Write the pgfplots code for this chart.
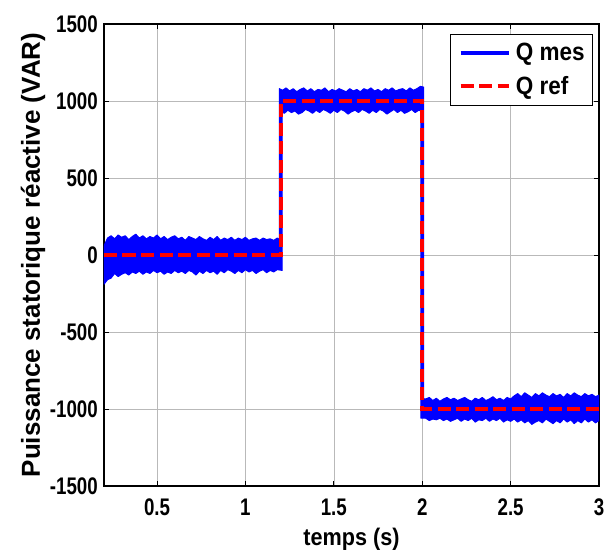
\documentclass[border=0pt]{standalone}
\usepackage{pgfplots}
\pgfplotsset{compat=1.18}
\usepackage{fontspec}
\setmainfont{Liberation Sans}
\newfontfamily\narrowfont{Liberation Sans}[FakeStretch=0.78]
\newfontfamily\midfont{Liberation Sans}[FakeStretch=0.9]
\begin{document}
\begin{tikzpicture}
\begin{axis}[
  name=ax,
  scale only axis,
  width=495pt, height=462pt,
  xmin=0.2, xmax=3, ymin=-1500, ymax=1500,
  xtick={0.5,1,1.5,2,2.5,3},
  xticklabels={0.5,1,1.5,2,2.5,3},
  ytick={-1500,-1000,-500,0,500,1000,1500},
  yticklabels={-1500,-1000,-500,0,500,1000,1500},
  grid=major,
  major grid style={gray!55, line width=0.6pt},
  axis line style={black, line width=1.1pt},
  tick style={black, line width=0.8pt},
  tick align=inside,
  major tick length=5pt,
  ticklabel style={font=\narrowfont\bfseries\fontsize{24}{26}\selectfont},
  xticklabel style={inner sep=0pt, yshift=-13pt},
  yticklabel style={inner sep=0pt, xshift=-6pt},
  every axis y label/.style={at={(axis description cs:-0.1293,0.5)}, rotate=90, anchor=base},
  every axis x label/.style={at={(axis description cs:0.5,-0.1277)}, anchor=base},
  ylabel={\bfseries\fontsize{26}{28}\selectfont Puissance statorique réactive (VAR)},
  xlabel={\midfont\bfseries\fontsize{24}{26}\selectfont temps (s)},
  legend cell align=left,
  legend style={at={(axis description cs:0.9879,0.9784)}, anchor=north east,
    draw=black, line width=0.8pt, fill=white,
    font=\midfont\bfseries\fontsize{25}{27}\selectfont,
    inner xsep=8pt, inner ysep=9pt, row sep=14pt,
    nodes={inner sep=0pt},
    /tikz/every odd column/.append style={column sep=5pt}},
  legend image code/.code={\draw[#1] (0pt,0pt) -- (48pt,0pt);},
]
\addplot[draw=blue, fill=blue, line width=1pt, line join=round, forget plot] coordinates {
(0.20,60) (0.22,110) (0.24,125) (0.26,105) (0.28,130) (0.30,115) (0.32,125) (0.34,100) (0.36,120) (0.38,135)
(0.40,110) (0.42,125) (0.44,105) (0.46,120) (0.48,110) (0.50,130) (0.52,105) (0.54,120) (0.56,100) (0.58,115)
(0.60,125) (0.62,105) (0.64,115) (0.66,95) (0.68,120) (0.70,110) (0.72,100) (0.74,120) (0.76,105) (0.78,95)
(0.80,115) (0.82,100) (0.84,120) (0.86,95) (0.88,110) (0.90,100) (0.92,115) (0.94,95) (0.96,110) (0.98,100)
(1.00,115) (1.02,95) (1.04,105) (1.06,110) (1.08,95) (1.10,110) (1.12,100) (1.14,105) (1.16,95) (1.18,110)
(1.192,100) (1.192,1080)
(1.21,1070) (1.23,1085) (1.25,1065) (1.27,1080) (1.29,1060) (1.31,1075) (1.33,1085) (1.35,1065) (1.37,1080) (1.39,1060)
(1.41,1075) (1.43,1070) (1.45,1085) (1.47,1060) (1.49,1075) (1.51,1065) (1.53,1080) (1.55,1070) (1.57,1060) (1.59,1080)
(1.61,1065) (1.63,1075) (1.65,1060) (1.67,1080) (1.69,1070) (1.71,1085) (1.73,1065) (1.75,1075) (1.77,1060) (1.79,1080)
(1.81,1070) (1.83,1085) (1.85,1065) (1.87,1075) (1.89,1080) (1.91,1065) (1.93,1085) (1.95,1070) (1.97,1080) (1.99,1095)
(2.008,1090) (2.008,-935)
(2.02,-935) (2.04,-925) (2.06,-945) (2.08,-930) (2.10,-950) (2.12,-935) (2.14,-925) (2.16,-940) (2.18,-930) (2.20,-945)
(2.22,-935) (2.24,-925) (2.26,-940) (2.28,-950) (2.30,-930) (2.32,-940) (2.34,-925) (2.36,-945) (2.38,-935) (2.40,-920)
(2.42,-940) (2.44,-930) (2.46,-945) (2.48,-925) (2.50,-935) (2.52,-915) (2.54,-900) (2.56,-920) (2.58,-895) (2.60,-910)
(2.62,-925) (2.64,-900) (2.66,-915) (2.68,-895) (2.70,-910) (2.72,-920) (2.74,-900) (2.76,-915) (2.78,-905) (2.80,-925)
(2.82,-900) (2.84,-915) (2.86,-895) (2.88,-910) (2.90,-920) (2.92,-900) (2.94,-915) (2.96,-905) (2.98,-920) (3.00,-910)
(3.00,-1075) (2.98,-1090) (2.96,-1070) (2.94,-1085) (2.92,-1065) (2.90,-1090) (2.88,-1075) (2.86,-1095) (2.84,-1070) (2.82,-1085)
(2.80,-1065) (2.78,-1090) (2.76,-1075) (2.74,-1095) (2.72,-1080) (2.70,-1065) (2.68,-1090) (2.66,-1075) (2.64,-1085) (2.62,-1100)
(2.60,-1075) (2.58,-1090) (2.56,-1070) (2.54,-1085) (2.52,-1065) (2.50,-1080) (2.48,-1070) (2.46,-1085) (2.44,-1060) (2.42,-1075)
(2.40,-1065) (2.38,-1080) (2.36,-1060) (2.34,-1075) (2.32,-1070) (2.30,-1085) (2.28,-1060) (2.26,-1075) (2.24,-1065) (2.22,-1080)
(2.20,-1060) (2.18,-1070) (2.16,-1080) (2.14,-1065) (2.12,-1075) (2.10,-1060) (2.08,-1070) (2.06,-1065) (2.04,-1075) (2.02,-1060)
(1.992,-1060) (1.992,935)
(1.98,940) (1.96,925) (1.94,945) (1.92,930) (1.90,920) (1.88,940) (1.86,925) (1.84,945) (1.82,930) (1.80,915)
(1.78,935) (1.76,945) (1.74,925) (1.72,940) (1.70,920) (1.68,935) (1.66,945) (1.64,925) (1.62,940) (1.60,930)
(1.58,915) (1.56,935) (1.54,945) (1.52,925) (1.50,940) (1.48,920) (1.46,935) (1.44,945) (1.42,925) (1.40,940)
(1.38,920) (1.36,935) (1.34,945) (1.32,925) (1.30,915) (1.28,935) (1.26,925) (1.24,940) (1.22,920) (1.208,930)
(1.208,-100)
(1.18,-95) (1.16,-110) (1.14,-100) (1.12,-115) (1.10,-95) (1.08,-105) (1.06,-120) (1.04,-100) (1.02,-110) (1.00,-95)
(0.98,-115) (0.96,-100) (0.94,-120) (0.92,-105) (0.90,-95) (0.88,-115) (0.86,-100) (0.84,-125) (0.82,-105) (0.80,-115)
(0.78,-100) (0.76,-120) (0.74,-105) (0.72,-130) (0.70,-110) (0.68,-100) (0.66,-120) (0.64,-105) (0.62,-115) (0.60,-100)
(0.58,-120) (0.56,-110) (0.54,-125) (0.52,-105) (0.50,-115) (0.48,-100) (0.46,-120) (0.44,-110) (0.42,-125) (0.40,-105)
(0.38,-120) (0.36,-110) (0.34,-130) (0.32,-115) (0.30,-125) (0.28,-140) (0.26,-120) (0.24,-150) (0.22,-160) (0.20,-190)
} -- cycle;
\addlegendimage{blue, line width=4.5pt}
\addlegendentry{Q mes}
\addplot[red, line width=4.5pt, dash pattern=on 13pt off 5.5pt] coordinates {
(0.2,0) (1.2,0) (1.2,1000) (2,1000) (2,-1000) (3,-1000)
};
\addlegendentry{Q ref}
\end{axis}
\pgfresetboundingbox
\path[use as bounding box] ([xshift=-104pt,yshift=-66pt]ax.south west) rectangle ([xshift=11pt,yshift=24pt]ax.north east);
\end{tikzpicture}
\end{document}
